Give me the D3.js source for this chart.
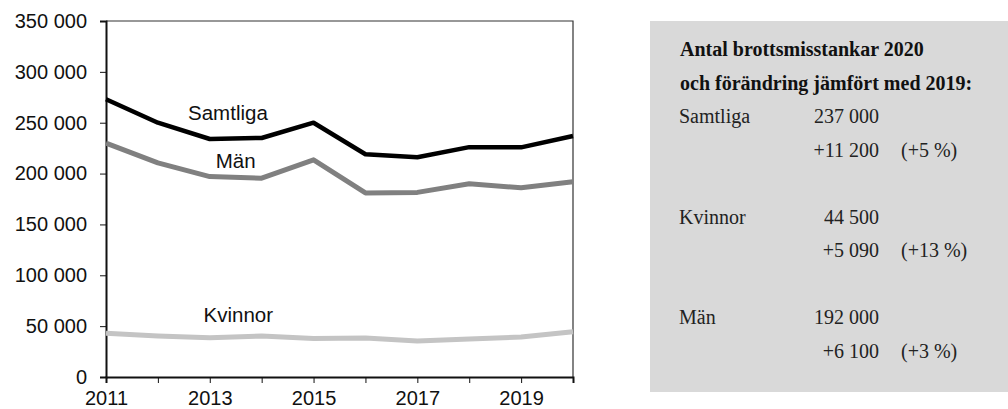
<!DOCTYPE html>
<html>
<head>
<meta charset="utf-8">
<script src="https://d3js.org/d3.v7.min.js"></script>
<style>
  body { margin: 0; background: #fff; }
  svg { display: block; }
</style>
</head>
<body>
<div id="chart"></div>
<script>
const width = 1008, height = 409;

// data
const years = [2011, 2012, 2013, 2014, 2015, 2016, 2017, 2018, 2019, 2020];
const samtliga = [273000, 250000, 234000, 235000, 250000, 219000, 216000, 226000, 225800, 237000];
const man      = [230000, 210500, 197000, 195500, 213500, 181000, 181500, 190000, 186000, 192000];
const kvinnor  = [ 43000,  40300,  38500,  40200,  37800,  38300,  35300,  37300,  39400,  44500];
const yTicks = [0, 50000, 100000, 150000, 200000, 250000, 300000, 350000];
const xLabelYears = [2011, 2013, 2015, 2017, 2019];

// right-hand fact box
const boxTitle = ["Antal brottsmisstankar 2020", "och förändring jämfört med 2019:"];
const boxGroups = ["Samtliga", "Kvinnor", "Män"];
const boxValues = ["237 000", "44 500", "192 000"];
const boxChanges = ["+11 200", "+5 090", "+6 100"];
const boxPercents = ["(+5 %)", "(+13 %)", "(+3 %)"];

const margin = {left: 106, right: 435, top: 21, bottom: 32};

const svg = d3.select("#chart").append("svg")
  .attr("width", width)
  .attr("height", height);

const x = d3.scaleLinear()
  .domain([2011, 2020])
  .range([margin.left, width - margin.right]);
const y = d3.scaleLinear()
  .domain([0, 350000])
  .range([height - margin.bottom, margin.top]);

const fmt = v => d3.format(",")(v).replace(/,/g, " ");
const sans = "Arial, 'Liberation Sans', sans-serif";

// frame (top + right)
svg.append("path")
  .attr("d", `M${x(2011)},${y(350000)}H${x(2020)}V${y(0)}`)
  .attr("fill", "none")
  .attr("stroke", "#333")
  .attr("stroke-width", 1.2);

const yAxis = svg.append("g")
  .attr("transform", `translate(${margin.left},0)`)
  .call(d3.axisLeft(y).tickValues(yTicks).tickSize(6).tickPadding(13).tickFormat(fmt));

const xAxis = svg.append("g")
  .attr("transform", `translate(0,${y(0)})`)
  .call(d3.axisBottom(x).tickValues(years).tickSize(6).tickPadding(8)
    .tickFormat(d => xLabelYears.includes(d) ? d : ""));

[yAxis, xAxis].forEach(g => {
  g.select(".domain").attr("stroke", "#111").attr("stroke-width", 2);
  g.selectAll(".tick line").attr("stroke", "#111").attr("stroke-width", 1);
  g.selectAll("text")
    .attr("font-family", sans)
    .attr("font-size", 20)
    .attr("fill", "#111");
});

const line = d3.line()
  .x((d, i) => x(years[i]))
  .y(d => y(d));

const series = [
  {name: "Kvinnor", values: kvinnor, color: "#c4c4c4", w: 5, lx: 2013.55, ly: 322},
  {name: "Män", values: man, color: "#808080", w: 5, lx: 2013.5, ly: 168},
  {name: "Samtliga", values: samtliga, color: "#000", w: 4.5, lx: 2013.35, ly: 120}
];

series.forEach(s => {
  svg.append("path")
    .attr("d", line(s.values))
    .attr("fill", "none")
    .attr("stroke", s.color)
    .attr("stroke-width", s.w)
    .attr("stroke-linejoin", "round");
  svg.append("text")
    .attr("x", x(s.lx))
    .attr("y", s.ly)
    .attr("text-anchor", "middle")
    .attr("font-family", sans)
    .attr("font-size", 20.5)
    .attr("fill", "#111")
    .text(s.name);
});

// fact box
const box = svg.append("g");
box.append("rect")
  .attr("x", 650).attr("y", 21)
  .attr("width", 358).attr("height", 371)
  .attr("fill", "#d9d9d9");

const serif = "'Liberation Serif', 'Times New Roman', serif";
boxTitle.forEach((t, i) => {
  box.append("text")
    .attr("x", 680).attr("y", 56 + i * 33.5)
    .attr("font-family", serif).attr("font-weight", "bold")
    .attr("font-size", 20).attr("fill", "#111")
    .text(t);
});

const rowY = [123, 223.5, 324];
boxGroups.forEach((g, i) => {
  const ty = rowY[i];
  const cy = ty + 33.5;
  box.append("text").attr("x", 679).attr("y", ty).text(g);
  box.append("text").attr("x", 879).attr("y", ty).attr("text-anchor", "end").text(boxValues[i]);
  box.append("text").attr("x", 879).attr("y", cy).attr("text-anchor", "end").text(boxChanges[i]);
  box.append("text").attr("x", 901).attr("y", cy).text(boxPercents[i]);
});
box.selectAll("text:not([font-weight])")
  .attr("font-family", serif)
  .attr("font-size", 20)
  .attr("fill", "#222");
</script>
</body>
</html>
